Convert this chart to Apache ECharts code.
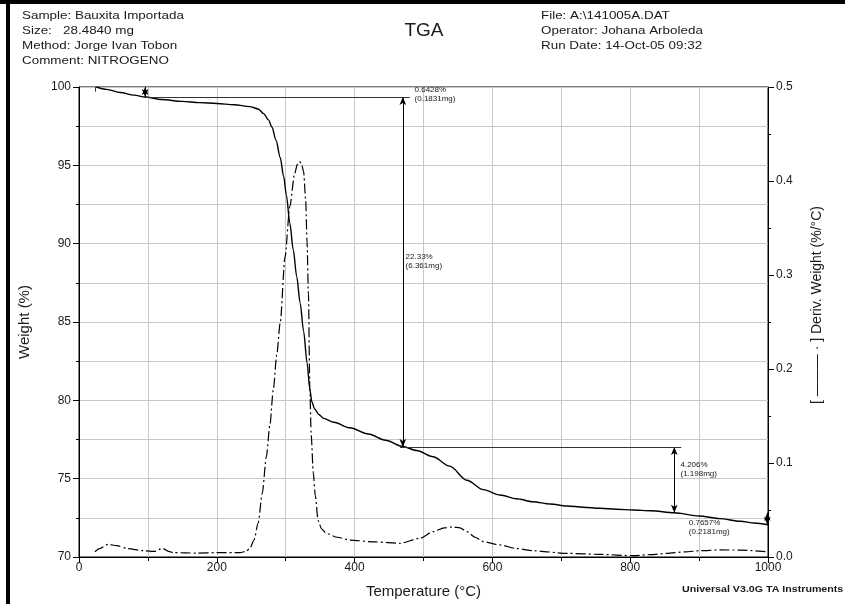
<!DOCTYPE html>
<html>
<head>
<meta charset="utf-8">
<script src="https://cdn.jsdelivr.net/npm/echarts@6/dist/echarts.min.js"></script>
<style>
  html, body { margin: 0; padding: 0; background: #fff; }
  #chart { width: 845px; height: 604px; }
</style>
</head>
<body>
<div id="chart"></div>
<script>
// TGA run: weight loss and its derivative for imported bauxite under nitrogen
const weightTemps = [25, 40, 60, 80, 96, 120, 150, 175, 200, 225, 248, 260, 268, 275, 280, 286, 292, 297, 301, 306, 311, 316, 321, 326, 331, 335, 338, 342, 348, 355, 370, 393, 420, 445, 470, 490, 514, 538, 563, 587, 611, 635, 659, 684, 708, 732, 756, 780, 804, 830, 864, 900, 930, 960, 980, 1000];
const weightValues = [100.0, 99.85, 99.65, 99.48, 99.36, 99.2, 99.08, 99.0, 98.95, 98.87, 98.75, 98.6, 98.3, 97.9, 97.45, 96.6, 95.5, 94.3, 93.1, 91.3, 89.6, 87.9, 86.2, 84.4, 82.4, 80.7, 79.9, 79.45, 79.1, 78.85, 78.6, 78.25, 77.85, 77.45, 77.05, 76.8, 76.4, 75.8, 74.9, 74.3, 73.96, 73.72, 73.53, 73.38, 73.26, 73.18, 73.11, 73.05, 73.0, 72.95, 72.82, 72.62, 72.45, 72.28, 72.17, 72.06];

const derivTemps = [23, 30, 42, 55, 70, 93, 110, 121, 130, 137, 170, 200, 234, 242, 248, 254, 260, 266, 272, 277, 282, 287, 292, 299, 306, 313, 317, 320, 323, 326, 329, 331, 333, 335, 337, 340, 343, 347, 352, 359, 375, 393, 430, 466, 495, 514, 530, 543, 553, 563, 575, 587, 611, 635, 659, 708, 756, 804, 830, 853, 880, 901, 930, 960, 998];
const derivValues = [0.0056, 0.009, 0.0135, 0.012, 0.009, 0.0067, 0.006, 0.0092, 0.006, 0.0046, 0.0042, 0.0046, 0.0046, 0.006, 0.009, 0.018, 0.036, 0.068, 0.107, 0.14, 0.178, 0.215, 0.249, 0.319, 0.373, 0.408, 0.418, 0.421, 0.418, 0.41, 0.38, 0.335, 0.28, 0.18, 0.13, 0.09, 0.065, 0.039, 0.03, 0.025, 0.021, 0.018, 0.016, 0.0146, 0.02, 0.027, 0.031, 0.032, 0.031, 0.027, 0.021, 0.0163, 0.0128, 0.009, 0.0067, 0.0039, 0.0028, 0.0014, 0.0025, 0.0039, 0.0055, 0.0067, 0.0075, 0.0074, 0.0056];

// Step analysis: temperature of each step arrow, weight before and after, and results
const stepTemps = [96, 470, 864, 999];
const stepUpper = [100, 99.357, 77.027, 72.821];
const stepLower = [99.357, 77.027, 72.821, 72.055];
const stepPercent = ['0.6428%', '22.33%', '4.206%', '0.7657%'];
const stepMass = ['(0.1831mg)', '(6.361mg)', '(1.198mg)', '(0.2181mg)'];
// Where each result text sits (°C, %)
const stepTextTemps = [487, 474, 873, 885];
const stepTextWeights = [99.55, 88.9, 75.6, 71.9];
// Horizontal level lines carried from one step to the next (°C span)
const levelWeights = [99.357, 77.027, 72.821];
const levelStart = [96, 466, 864];
const levelEnd = [480, 874, 1005];

const xTicks = { min: 0, max: 1000, interval: 200 };
const yLeftTicks = { min: 70, max: 100, interval: 5 };
const yRightTicks = { min: 0, max: 0.5, interval: 0.1 };

const FONT = 'Liberation Sans, Arial, Helvetica, sans-serif';
const INK = '#1a1a1a';
const GRID = '#c8c8c8';

const weightData = weightTemps.map((t, i) => [t, weightValues[i]]);
const derivData = derivTemps.map((t, i) => [t, derivValues[i]]);

const arrowLines = stepTemps.map((t, i) => [
  { coord: [t, stepUpper[i]] },
  { coord: [t, stepLower[i]] }
]);
const levelLines = levelWeights.map((w, i) => [
  { coord: [levelStart[i], w], symbol: 'none' },
  { coord: [levelEnd[i], w], symbol: 'none' }
]);
// start marker
const startLine = [[{ coord: [23, 100], symbol: 'none' }, { coord: [23, 99.7], symbol: 'none' }]];

const stepTexts = stepTemps.map((t, i) => ({
  coord: [stepTextTemps[i], stepTextWeights[i]],
  value: stepPercent[i] + '\n' + stepMass[i]
}));

const chart = echarts.init(document.getElementById('chart'), null, { renderer: 'canvas' });

function headerText(x, y, text, size, extra) {
  return Object.assign({
    type: 'text', x: x, y: y,
    style: { text: text, fontSize: size, fontFamily: FONT, fill: INK, verticalAlign: 'middle', align: 'left' }
  }, extra || {});
}

chart.setOption({
  animation: false,
  backgroundColor: '#fff',
  textStyle: { fontFamily: FONT },
  grid: {
    left: 79, right: 77, top: 87, bottom: 47,
    show: true, borderColor: '#000', borderWidth: 1, backgroundColor: 'transparent'
  },
  xAxis: {
    type: 'value', min: xTicks.min, max: xTicks.max, interval: xTicks.interval,
    name: 'Temperature (°C)', nameLocation: 'middle', nameGap: 27,
    nameTextStyle: { fontSize: 15, color: INK, fontFamily: FONT },
    axisLine: { show: true, lineStyle: { color: '#000', width: 1 } },
    axisTick: { show: true, length: 6, lineStyle: { color: '#000' } },
    minorTick: { show: true, splitNumber: 2, length: 4, lineStyle: { color: '#000' } },
    axisLabel: { fontSize: 12, color: INK, margin: 5, formatter: v => String(v) },
    splitLine: { show: true, lineStyle: { color: GRID, width: 1 } },
    minorSplitLine: { show: true, lineStyle: { color: GRID, width: 1 } }
  },
  yAxis: [
    {
      type: 'value', min: yLeftTicks.min, max: yLeftTicks.max, interval: yLeftTicks.interval,
      name: 'Weight (%)', nameLocation: 'middle', nameGap: 47,
      nameTextStyle: { fontSize: 15, color: INK, fontFamily: FONT },
      axisLine: { show: true, lineStyle: { color: '#000', width: 1 } },
      axisTick: { show: true, length: 6, lineStyle: { color: '#000' } },
      minorTick: { show: true, splitNumber: 2, length: 3, lineStyle: { color: '#000' } },
      axisLabel: { fontSize: 12, color: INK, margin: 8 },
      splitLine: { show: true, lineStyle: { color: GRID, width: 1 } },
      minorSplitLine: { show: true, lineStyle: { color: GRID, width: 1 } }
    },
    {
      type: 'value', position: 'right', min: yRightTicks.min, max: yRightTicks.max, interval: yRightTicks.interval,
      axisLine: { show: true, lineStyle: { color: '#000', width: 1 } },
      axisTick: { show: true, length: 6, lineStyle: { color: '#000' } },
      minorTick: { show: true, splitNumber: 2, length: 3, lineStyle: { color: '#000' } },
      axisLabel: { fontSize: 12, color: INK, margin: 8, formatter: v => v.toFixed(1) },
      splitLine: { show: false }
    }
  ],
  series: [
    {
      name: 'Weight', type: 'line', yAxisIndex: 0, data: weightData,
      showSymbol: false, smooth: 0.3, smoothMonotone: 'x',
      lineStyle: { color: '#000', width: 1.4 },
      z: 3,
      markLine: {
        silent: true, symbol: ['arrow', 'arrow'], symbolSize: [5, 8],
        label: { show: false },
        lineStyle: { color: '#000', width: 1, type: 'solid' },
        data: arrowLines
      }
    },
    {
      name: 'Levels', type: 'line', yAxisIndex: 0, data: [],
      markLine: {
        silent: true, symbol: 'none', label: { show: false },
        lineStyle: { color: '#333', width: 1, type: 'solid' },
        data: levelLines.concat(startLine)
      },
      markPoint: {
        silent: true, symbol: 'circle', symbolSize: 0,
        label: {
          show: true, position: [0, 0], align: 'left', verticalAlign: 'middle',
          fontSize: 8, lineHeight: 9, color: INK, fontFamily: FONT,
          formatter: p => p.value
        },
        data: stepTexts
      }
    },
    {
      name: 'Deriv. Weight', type: 'line', yAxisIndex: 1, data: derivData,
      showSymbol: false, smooth: 0.25, smoothMonotone: 'x',
      lineStyle: { color: '#000', width: 1.2, type: [10, 3, 2, 3] },
      z: 2
    }
  ],
  graphic: [
    // frame edges
    { type: 'rect', shape: { x: 0, y: 0, width: 845, height: 4 }, style: { fill: '#000' } },
    { type: 'rect', shape: { x: 6, y: 0, width: 4, height: 604 }, style: { fill: '#000' } },
    headerText(22, 16, 'Sample: Bauxita Importada', 11, { scaleX: 1.22 }),
    headerText(22, 31, 'Size:   28.4840 mg', 11, { scaleX: 1.22 }),
    headerText(22, 46, 'Method: Jorge Ivan Tobon', 11, { scaleX: 1.22 }),
    headerText(22, 61, 'Comment: NITROGENO', 11, { scaleX: 1.22 }),
    headerText(541, 16, 'File: A:\\141005A.DAT', 11, { scaleX: 1.22 }),
    headerText(541, 31, 'Operator: Johana Arboleda', 11, { scaleX: 1.22 }),
    headerText(541, 46, 'Run Date: 14-Oct-05 09:32', 11, { scaleX: 1.22 }),
    {
      type: 'text', x: 424, y: 31,
      style: { text: 'TGA', fontSize: 19, fontFamily: FONT, fill: INK, align: 'center', verticalAlign: 'middle' }
    },
    {
      type: 'text', x: 817, y: 305, rotation: Math.PI / 2,
      style: { text: '[ ——— · ] Deriv. Weight (%/°C)', fontSize: 14, fontFamily: FONT, fill: INK, align: 'center', verticalAlign: 'middle' }
    },
    headerText(682, 589, 'Universal V3.0G TA Instruments', 9.5, { scaleX: 1.12, style: { text: 'Universal V3.0G TA Instruments', fontSize: 9.5, fontWeight: 'bold', fontFamily: FONT, fill: INK, verticalAlign: 'middle', align: 'left' } })
  ]
});
</script>
</body>
</html>
